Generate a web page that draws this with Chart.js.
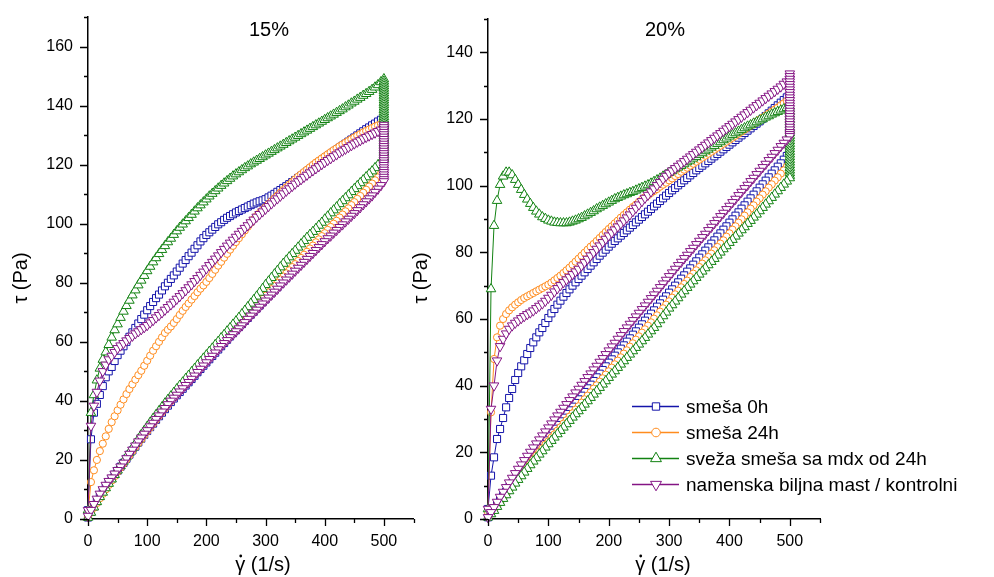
<!DOCTYPE html>
<html>
<head>
<meta charset="utf-8">
<script src="https://cdn.jsdelivr.net/npm/chart.js@4/dist/chart.umd.min.js"></script>
<style>
  body { margin: 0; background: #fff; }
  #wrap { position: relative; width: 994px; height: 577px; }
  #c15 { position: absolute; left: 0; top: 0; }
  #c20 { position: absolute; left: 400px; top: 0; }
</style>
</head>
<body>
<div id="wrap">
  <canvas id="c15" width="420" height="577"></canvas>
  <canvas id="c20" width="594" height="577"></canvas>
</div>
<script>
// shear rate grid (1/s), 0..500 every 5 -- same for the up and the down ramp
const shearRate = [
  0, 5, 10, 15, 20, 25, 30, 35, 40, 45,
  50, 55, 60, 65, 70, 75, 80, 85, 90, 95,
  100, 105, 110, 115, 120, 125, 130, 135, 140, 145,
  150, 155, 160, 165, 170, 175, 180, 185, 190, 195,
  200, 205, 210, 215, 220, 225, 230, 235, 240, 245,
  250, 255, 260, 265, 270, 275, 280, 285, 290, 295,
  300, 305, 310, 315, 320, 325, 330, 335, 340, 345,
  350, 355, 360, 365, 370, 375, 380, 385, 390, 395,
  400, 405, 410, 415, 420, 425, 430, 435, 440, 445,
  450, 455, 460, 465, 470, 475, 480, 485, 490, 495,
  500];
const holdRate = 500;

const labels = ["smeša 0h", "smeša 24h", "sveža smeša sa mdx od 24h", "namenska biljna mast / kontrolni"];

// ================= 15% =================
const blue15Up = [
  3, 27, 36, 39, 42, 45, 48, 50, 51.5, 53.5,
  55.5, 57, 58.5, 60, 61.7, 63.2, 64.7, 66.2, 67.7, 69.2,
  70.7, 72.1, 73.5, 74.8, 76, 77.4, 78.8, 80, 81.3, 82.5,
  83.8, 85.1, 86.5, 87.7, 89, 90.2, 91.5, 92.7, 94, 95.1,
  96.2, 97.1, 98, 98.9, 99.8, 100.5, 101.3, 102, 102.6, 103.2,
  103.8, 104.3, 104.8, 105.3, 105.8, 106.3, 106.8, 107.2, 107.6, 107.9,
  108.3, 108.9, 109.5, 110.1, 110.8, 111.4, 112.1, 112.7, 113.4, 114.1,
  114.8, 115.5, 116.2, 116.9, 117.7, 118.4, 119.2, 119.9, 120.7, 121.4,
  122.2, 122.9, 123.6, 124.3, 125, 125.7, 126.4, 127.1, 127.8, 128.5,
  129.2, 129.9, 130.6, 131.3, 132, 132.6, 133.3, 133.9, 134.6, 135.2,
  135.8];
const orange15Up = [
  2, 12.5, 16.5, 20, 23, 25.5, 28, 30.5, 32.8, 34.8,
  36.8, 38.7, 40.5, 42.3, 44, 45.6, 47.2, 48.7, 50.2, 51.9,
  53.6, 55.3, 57, 58.5, 60, 61.5, 63, 64.1, 65.2, 66.4,
  67.7, 69.1, 70.5, 71.8, 73, 74.3, 75.5, 76.8, 78, 79.1,
  80.3, 81.6, 83, 84.4, 85.8, 87.1, 88.5, 89.8, 91.2, 92.5,
  93.8, 95.1, 96.4, 97.7, 99, 100.3, 101.5, 102.6, 103.6, 104.6,
  105.6, 106.6, 107.6, 108.6, 109.5, 110.5, 111.4, 112.3, 113.2, 114.1,
  115, 115.9, 116.7, 117.5, 118.3, 119.1, 119.9, 120.7, 121.4, 122.1,
  122.8, 123.5, 124.2, 124.9, 125.5, 126.2, 126.8, 127.4, 128, 128.6,
  129.2, 129.8, 130.3, 130.9, 131.4, 131.9, 132.4, 132.9, 133.3, 133.8,
  134.2];
const green15Up = [
  3, 36, 42, 47, 51, 54, 56.5, 59, 61.5, 64,
  66, 68.2, 70.3, 72.2, 74, 75.8, 77.5, 79.2, 80.8, 82.4,
  84, 85.5, 87, 88.4, 89.8, 91.2, 92.5, 93.8, 95, 96.3,
  97.5, 98.7, 99.8, 100.9, 102, 103.1, 104.2, 105.3, 106.3, 107.3,
  108.3, 109.3, 110.2, 111.1, 112, 112.9, 113.7, 114.5, 115.3, 116.1,
  116.8, 117.5, 118.2, 118.9, 119.5, 120.2, 120.8, 121.4, 122, 122.6,
  123.2, 123.8, 124.4, 125, 125.6, 126.2, 126.8, 127.4, 128, 128.6,
  129.2, 129.8, 130.4, 131, 131.6, 132.2, 132.8, 133.4, 134, 134.6,
  135.2, 135.8, 136.4, 137, 137.6, 138.2, 138.8, 139.5, 140.1, 140.8,
  141.4, 142.1, 142.7, 143.4, 144, 144.7, 145.4, 146.2, 147, 148,
  149];
const purple15Up = [
  3, 31.5, 38.3, 43, 46.8, 50, 52.2, 54, 55.2, 56.5,
  57.8, 58.7, 59.5, 60.4, 61.2, 62, 62.8, 63.5, 64.2, 64.9,
  65.6, 66.5, 67.3, 68.2, 69, 69.9, 70.8, 71.7, 72.6, 73.5,
  74.5, 75.4, 76.4, 77.4, 78.4, 79.4, 80.5, 81.5, 82.6, 83.7,
  84.8, 85.9, 87, 88.1, 89.2, 90.3, 91.4, 92.5, 93.5, 94.5,
  95.5, 96.5, 97.5, 98.5, 99.4, 100.4, 101.3, 102.3, 103.2, 104.1,
  105, 105.9, 106.8, 107.7, 108.5, 109.4, 110.2, 111.1, 111.9, 112.7,
  113.5, 114.3, 115, 115.8, 116.5, 117.3, 118, 118.7, 119.4, 120.1,
  120.8, 121.5, 122.1, 122.8, 123.4, 124.1, 124.7, 125.3, 125.9, 126.5,
  127.1, 127.7, 128.2, 128.8, 129.3, 129.8, 130.3, 130.8, 131.3, 131.8,
  132.2];

// stress while held at 500 1/s
const blue15Hold = [135, 134.2, 133.4, 132.6, 131.8, 131, 130.2, 129.4, 128.6, 127.8, 127, 126.2, 125.4, 124.6,
  123.8, 123, 122.2, 121.4, 120.6, 119.8, 119, 118.2, 117.4, 116.6];
const orange15Hold = [133.4, 132.6, 131.8, 131, 130.2, 129.4, 128.6, 127.8, 127, 126.2, 125.4, 124.6, 123.8, 123,
  122.2, 121.4, 120.6, 119.8, 119, 118.5];
const green15Hold = [148.2, 147.4, 146.6, 145.8, 145, 144.2, 143.4, 142.6, 141.8, 141, 140.2, 139.4, 138.6, 137.8,
  137, 136.2, 135.4, 134.6, 133.8, 133, 132.2, 131.4, 130.6, 129.8, 129, 128.2, 127.4, 126.6, 125.8, 125, 124.2,
  123.4, 122.6];
const purple15Hold = [133.4, 132.6, 131.8, 131, 130.2, 129.4, 128.6, 127.8, 127, 126.2, 125.4, 124.6, 123.8, 123,
  122.2, 121.4, 120.6, 119.8, 119, 118.2, 117.4, 116.6, 115.8, 115];

// down ramp, listed from 0 to 500 1/s
const blue15Down = [
  0.5, 2.4, 4.2, 6, 7.7, 9.3, 10.8, 12.2, 13.6, 15,
  16.3, 17.7, 19, 20.4, 21.8, 23.2, 24.5, 25.9, 27.2, 28.5,
  29.8, 31.1, 32.3, 33.6, 34.8, 36, 37.2, 38.4, 39.6, 40.8,
  41.9, 43, 44.1, 45.2, 46.3, 47.4, 48.5, 49.7, 50.8, 51.9,
  53, 54.1, 55.2, 56.3, 57.4, 58.5, 59.6, 60.7, 61.8, 62.9,
  63.9, 65, 66, 67.1, 68.1, 69.2, 70.2, 71.3, 72.3, 73.4,
  74.4, 75.5, 76.5, 77.5, 78.5, 79.6, 80.6, 81.6, 82.6, 83.7,
  84.7, 85.7, 86.7, 87.8, 88.8, 89.8, 90.8, 91.9, 92.9, 94,
  95, 96.1, 97.1, 98.2, 99.2, 100.2, 101.2, 102.3, 103.3, 104.4,
  105.4, 106.5, 107.5, 108.6, 109.6, 110.7, 111.7, 112.8, 113.8, 114.9,
  116];
const orange15Down = [
  0.5, 2.2, 3.8, 5.4, 7, 8.5, 10, 11.5, 13, 14.5,
  16, 17.4, 18.8, 20.2, 21.6, 23, 24.4, 25.7, 27, 28.4,
  29.7, 31, 32.3, 33.6, 34.9, 36.2, 37.4, 38.7, 39.9, 41.1,
  42.3, 43.5, 44.7, 45.9, 47, 48.2, 49.3, 50.5, 51.6, 52.8,
  53.9, 55, 56.1, 57.2, 58.3, 59.4, 60.5, 61.6, 62.7, 63.8,
  64.9, 66, 67, 68.1, 69.1, 70.2, 71.2, 72.3, 73.4, 74.5,
  75.6, 76.7, 77.8, 78.9, 80, 81.1, 82.1, 83.2, 84.2, 85.3,
  86.3, 87.4, 88.4, 89.5, 90.5, 91.6, 92.6, 93.7, 94.7, 95.8,
  96.8, 97.9, 98.9, 100, 101, 102.1, 103.1, 104.2, 105.2, 106.3,
  107.3, 108.4, 109.4, 110.5, 111.5, 112.6, 113.6, 114.7, 115.7, 116.9,
  118];
const green15Down = [
  0.5, 2.2, 4, 5.8, 7.5, 9, 10.5, 12, 13.5, 15,
  16.5, 18, 19.5, 21, 22.5, 24, 25.5, 27, 28.5, 29.9,
  31.3, 32.7, 34, 35.3, 36.6, 37.9, 39.2, 40.4, 41.6, 42.8,
  44, 45.2, 46.3, 47.5, 48.6, 49.8, 50.9, 52.1, 53.2, 54.4,
  55.5, 56.7, 57.8, 59, 60.1, 61.3, 62.4, 63.6, 64.7, 65.9,
  67, 68.2, 69.4, 70.6, 71.8, 73, 74.2, 75.4, 76.7, 78,
  79.3, 80.5, 81.7, 82.9, 84.1, 85.3, 86.5, 87.6, 88.7, 89.8,
  90.9, 92, 93.1, 94.2, 95.3, 96.3, 97.3, 98.3, 99.4, 100.4,
  101.5, 102.5, 103.6, 104.6, 105.6, 106.7, 107.7, 108.7, 109.7, 110.8,
  111.8, 112.8, 113.8, 114.8, 115.8, 116.8, 117.8, 118.9, 119.9, 121,
  122];
const purple15Down = [
  1, 3, 5, 6.8, 8.5, 10, 11.5, 12.8, 14, 15.3,
  16.5, 17.7, 19, 20.5, 22, 23.4, 24.8, 26.2, 27.5, 28.8,
  30, 31.3, 32.5, 33.8, 35, 36.3, 37.5, 38.8, 40, 41,
  42, 43.1, 44.2, 45.3, 46.3, 47.4, 48.5, 49.7, 50.8, 51.9,
  53, 54.1, 55.2, 56.3, 57.4, 58.5, 59.5, 60.5, 61.5, 62.5,
  63.5, 64.5, 65.5, 66.6, 67.7, 68.8, 69.8, 70.8, 71.8, 72.9,
  73.9, 74.9, 75.9, 76.9, 77.9, 79, 80, 81, 82, 83,
  84, 85, 86, 87, 88, 89, 90, 91, 92, 93,
  94, 95, 95.9, 96.9, 97.8, 98.8, 99.7, 100.7, 101.6, 102.6,
  103.5, 104.5, 105.5, 106.5, 107.5, 108.5, 109.5, 110.7, 111.8, 113,
  114.3];

// ================= 20% =================
const blue20Up = [
  3, 13, 18.5, 24, 27, 30.3, 33.5, 36.3, 39, 41.7,
  43.8, 45.8, 47.6, 49.5, 51.3, 53, 54.5, 56, 57.3, 58.8,
  60.3, 61.7, 63, 64.3, 65.5, 66.7, 67.8, 68.9, 70, 71,
  72, 73, 74, 75, 76, 77, 78, 79, 79.9, 80.8,
  81.7, 82.6, 83.4, 84.2, 85, 85.8, 86.6, 87.4, 88.2, 89,
  89.8, 90.6, 91.4, 92.2, 93, 93.8, 94.6, 95.4, 96.2, 97,
  97.8, 98.6, 99.3, 100.1, 100.8, 101.6, 102.3, 103.1, 103.8, 104.6,
  105.3, 106, 106.7, 107.4, 108.1, 108.8, 109.5, 110.2, 110.9, 111.6,
  112.3, 113, 113.7, 114.4, 115.1, 115.8, 116.5, 117.2, 117.9, 118.6,
  119.3, 120.1, 120.9, 121.7, 122.5, 123.3, 124.1, 124.9, 125.7, 126.5,
  127.3];
const orange20Up = [
  2, 32, 48, 54.5, 58, 60, 61.5, 62.6, 63.5, 64.3,
  65, 65.7, 66.3, 66.8, 67.3, 67.8, 68.3, 68.8, 69.3, 69.8,
  70.3, 70.9, 71.6, 72.3, 73, 73.8, 74.6, 75.4, 76.3, 77.2,
  78.1, 79, 79.9, 80.8, 81.7, 82.5, 83.4, 84.3, 85.2, 86.1,
  87, 87.8, 88.7, 89.5, 90.4, 91.2, 92, 92.8, 93.6, 94.3,
  95.1, 95.8, 96.5, 97.1, 97.8, 98.4, 99, 99.7, 100.3, 100.9,
  101.6, 102.2, 102.9, 103.5, 104.2, 104.8, 105.4, 106, 106.6, 107.2,
  107.8, 108.4, 109, 109.6, 110.2, 110.8, 111.4, 112, 112.6, 113.2,
  113.8, 114.4, 115, 115.6, 116.2, 116.8, 117.4, 118, 118.6, 119.2,
  119.8, 120.4, 121, 121.6, 122.2, 122.8, 123.4, 124.1, 124.7, 125.4,
  126];
const green20Up = [
  3, 69, 88, 95.5, 100.3, 102.8, 104, 104, 103.2, 101.8,
  100.3, 98.8, 97.3, 95.9, 94.6, 93.4, 92.3, 91.4, 90.6, 90.1,
  89.6, 89.3, 89, 88.9, 88.8, 88.8, 88.8, 89, 89.3, 89.6,
  90, 90.4, 90.9, 91.4, 91.9, 92.4, 93, 93.5, 94, 94.5,
  95, 95.5, 96, 96.4, 96.8, 97.2, 97.5, 97.9, 98.2, 98.6,
  99, 99.4, 99.8, 100.2, 100.7, 101.2, 101.7, 102.2, 102.8, 103.3,
  103.9, 104.4, 105, 105.5, 106, 106.5, 107.1, 107.6, 108.2, 108.7,
  109.3, 109.8, 110.4, 110.9, 111.5, 112, 112.6, 113.1, 113.7, 114.2,
  114.8, 115.3, 115.8, 116.3, 116.8, 117.3, 117.8, 118.2, 118.7, 119.1,
  119.6, 120, 120.5, 120.9, 121.4, 121.8, 122.2, 122.6, 123, 123.4,
  123.8];
const purple20Up = [
  3, 33, 40, 47.5, 51.8, 54, 55.6, 57, 58, 58.8,
  59.5, 60.2, 60.8, 61.4, 61.9, 62.5, 63.2, 63.9, 64.6, 65.4,
  66.3, 67.2, 68.2, 69.2, 70.1, 71, 71.8, 72.6, 73.4, 74.2,
  75, 76, 77, 78, 79, 80, 81, 82, 83, 84,
  85, 85.9, 86.8, 87.7, 88.6, 89.5, 90.4, 91.3, 92.3, 93.3,
  94.3, 95.3, 96.3, 97.2, 98.2, 99.1, 100.1, 101, 102, 102.9,
  103.8, 104.5, 105.2, 105.9, 106.6, 107.3, 108, 108.7, 109.4, 110.1,
  110.8, 111.5, 112.2, 112.9, 113.6, 114.3, 115, 115.7, 116.4, 117.1,
  117.8, 118.5, 119.2, 119.9, 120.6, 121.3, 122, 122.7, 123.4, 124.1,
  124.8, 125.5, 126.2, 126.9, 127.6, 128.3, 129, 129.7, 130.5, 131.2,
  132];

const blue20Hold = [126.5, 125.7, 124.9, 124.1, 123.3, 122.5, 121.7, 120.9, 120.1, 119.3, 118.5, 117.7, 116.9,
  116.1, 115.3, 114.5, 113.7, 112.9, 112.1, 111.3, 110.6];
const orange20Hold = [125.2, 124.4, 123.6, 122.8, 122, 121.2, 120.4, 119.6, 118.8, 118, 117.2, 116.4, 115.6,
  114.8, 114, 113.2, 112.4, 111.6, 110.8, 110, 109.2, 108.4, 107.6];
const green20Hold = [123, 122.2, 121.4, 120.6, 119.8, 119, 118.2, 117.4, 116.6, 115.8, 115, 114.2, 113.4, 112.6,
  111.8, 111, 110.2, 109.4, 108.6, 107.8, 107, 106.2, 105.4, 104.6, 103.8, 103];
const purple20Hold = [133.6, 132.8, 132, 131.2, 130.4, 129.6, 128.8, 128, 127.2, 126.4, 125.6, 124.8, 124, 123.2,
  122.4, 121.6, 120.8, 120, 119.2, 118.4, 117.6, 116.8, 116, 115.4];

const blue20Down = [
  0.5, 1.8, 3, 4.3, 5.6, 6.9, 8.2, 9.5, 10.7, 11.9,
  13.1, 14.3, 15.5, 16.7, 17.9, 19, 20.2, 21.3, 22.5, 23.6,
  24.8, 25.9, 27.1, 28.2, 29.3, 30.4, 31.5, 32.6, 33.7, 34.8,
  35.9, 37, 38.1, 39.2, 40.3, 41.4, 42.5, 43.6, 44.7, 45.8,
  46.9, 47.9, 49, 50, 51.1, 52.1, 53.2, 54.2, 55.3, 56.3,
  57.4, 58.4, 59.5, 60.5, 61.6, 62.6, 63.7, 64.7, 65.8, 66.8,
  67.9, 68.9, 70, 71, 72.1, 73.1, 74.2, 75.2, 76.3, 77.3,
  78.4, 79.4, 80.5, 81.5, 82.6, 83.6, 84.7, 85.7, 86.8, 87.8,
  88.9, 89.9, 91, 92, 93.1, 94.1, 95.2, 96.2, 97.3, 98.3,
  99.4, 100.4, 101.5, 102.5, 103.6, 104.6, 105.7, 106.7, 107.8, 108.9,
  110];
const orange20Down = [
  0.5, 1.6, 2.8, 4, 5.2, 6.4, 7.6, 8.8, 10, 11.2,
  12.3, 13.5, 14.6, 15.7, 16.8, 17.9, 19, 20.1, 21.2, 22.3,
  23.3, 24.4, 25.4, 26.5, 27.5, 28.6, 29.6, 30.7, 31.7, 32.8,
  33.8, 34.9, 35.9, 37, 38, 39.1, 40.1, 41.2, 42.2, 43.3,
  44.3, 45.4, 46.4, 47.5, 48.5, 49.6, 50.6, 51.7, 52.7, 53.8,
  54.8, 55.9, 56.9, 58, 59, 60.1, 61.1, 62.2, 63.2, 64.3,
  65.3, 66.4, 67.4, 68.5, 69.5, 70.5, 71.5, 72.6, 73.6, 74.6,
  75.6, 76.6, 77.6, 78.6, 79.6, 80.6, 81.6, 82.6, 83.6, 84.7,
  85.7, 86.8, 87.8, 88.9, 89.9, 91, 92, 93.1, 94.1, 95.2,
  96.2, 97.3, 98.3, 99.4, 100.4, 101.5, 102.5, 103.6, 104.6, 105.7,
  106.8];
const green20Down = [
  0.5, 1.5, 2.5, 3.7, 4.9, 6.1, 7.2, 8.4, 9.5, 10.7,
  11.8, 12.9, 14, 15.1, 16.2, 17.3, 18.3, 19.4, 20.4, 21.5,
  22.5, 23.5, 24.5, 25.5, 26.5, 27.5, 28.5, 29.5, 30.5, 31.5,
  32.4, 33.4, 34.4, 35.4, 36.4, 37.4, 38.4, 39.4, 40.4, 41.4,
  42.4, 43.4, 44.4, 45.4, 46.4, 47.4, 48.4, 49.4, 50.4, 51.4,
  52.4, 53.4, 54.4, 55.4, 56.4, 57.4, 58.5, 59.7, 60.9, 62,
  63.2, 64.2, 65.3, 66.3, 67.4, 68.4, 69.4, 70.4, 71.4, 72.4,
  73.4, 74.3, 75.3, 76.2, 77.2, 78.1, 79.1, 80, 81, 81.9,
  82.9, 83.8, 84.8, 85.7, 86.7, 87.6, 88.6, 89.5, 90.5, 91.4,
  92.4, 93.4, 94.4, 95.4, 96.4, 97.4, 98.4, 99.4, 100.4, 101.3,
  102.3];
const purple20Down = [
  0.5, 2, 3.5, 5.1, 6.6, 8.1, 9.5, 10.9, 12.3, 13.7,
  15, 16.3, 17.6, 18.9, 20.1, 21.4, 22.6, 23.8, 25, 26.2,
  27.4, 28.6, 29.8, 31, 32.1, 33.3, 34.4, 35.6, 36.7, 37.9,
  39, 40.2, 41.3, 42.5, 43.6, 44.8, 45.9, 47.1, 48.2, 49.4,
  50.5, 51.7, 52.8, 54, 55.1, 56.3, 57.4, 58.5, 59.6, 60.7,
  61.8, 62.9, 64, 65.1, 66.2, 67.3, 68.4, 69.5, 70.6, 71.7,
  72.8, 73.9, 75, 76.1, 77.1, 78.2, 79.2, 80.3, 81.3, 82.4,
  83.4, 84.5, 85.5, 86.6, 87.6, 88.7, 89.7, 90.8, 91.8, 92.9,
  93.9, 95, 96, 97.1, 98.1, 99.2, 100.2, 101.3, 102.3, 103.4,
  104.4, 105.5, 106.5, 107.6, 108.6, 109.7, 110.7, 111.8, 112.8, 113.8,
  114.8];

const FONT = '"Liberation Sans", Arial, "DejaVu Sans", sans-serif';
const colors = ["#1414aa", "#ff8c1e", "#128212", "#841484"];
const styles = [
  { pointStyle: "rect", rotation: 0, radius: 5 },
  { pointStyle: "circle", rotation: 0, radius: 3.6 },
  { pointStyle: "triangle", rotation: 0, radius: 5.5 },
  { pointStyle: "triangle", rotation: 180, radius: 5.5 },
];

// up ramp -> hold at 500 1/s -> down ramp
function loop(up, hold, down) {
  const pts = shearRate.map((x, i) => ({ x, y: up[i] }));
  hold.forEach((y) => pts.push({ x: holdRate, y }));
  for (let i = shearRate.length - 1; i >= 0; i--) pts.push({ x: shearRate[i], y: down[i] });
  return pts;
}

function makeDataset(i, pts) {
  const s = styles[i];
  return {
    label: labels[i],
    data: pts,
    order: 3 - i, // last series ends up on top
    showLine: true,
    tension: 0,
    clip: false,
    borderColor: colors[i],
    borderWidth: 1,
    pointStyle: s.pointStyle,
    pointRotation: s.rotation,
    pointRadius: s.radius,
    pointHoverRadius: s.radius,
    pointBorderColor: colors[i],
    pointBackgroundColor: "#fff",
    pointBorderWidth: 1,
  };
}

function marker(ctx, s, x, y, r) {
  ctx.beginPath();
  if (s.pointStyle === "rect") {
    const h = r * Math.SQRT1_2;
    ctx.rect(x - h, y - h, 2 * h, 2 * h);
  } else if (s.pointStyle === "circle") {
    ctx.arc(x, y, r, 0, Math.PI * 2);
  } else {
    let a = (s.rotation * Math.PI) / 180;
    ctx.moveTo(x + Math.sin(a) * r, y - Math.cos(a) * r);
    a += (2 * Math.PI) / 3;
    ctx.lineTo(x + Math.sin(a) * r, y - Math.cos(a) * r);
    a += (2 * Math.PI) / 3;
    ctx.lineTo(x + Math.sin(a) * r, y - Math.cos(a) * r);
    ctx.closePath();
  }
  ctx.fill();
  ctx.stroke();
}

// ticks drawn by hand: long major, short minor
const axisTicks = {
  id: "axisTicks",
  afterDraw(chart) {
    const ctx = chart.ctx;
    const xs = chart.scales.x;
    const ys = chart.scales.y;
    ctx.save();
    ctx.strokeStyle = "#000";
    ctx.lineWidth = 1.3;
    ctx.beginPath();
    ys.ticks.forEach((t) => {
      const py = Math.round(ys.getPixelForValue(t.value)) + 0.5;
      const len = t.value % 20 === 0 ? 8 : 4;
      ctx.moveTo(ys.right - len, py);
      ctx.lineTo(ys.right, py);
    });
    xs.ticks.forEach((t) => {
      const px = Math.round(xs.getPixelForValue(t.value)) + 0.5;
      const len = t.value % 100 === 0 ? 7 : 4;
      ctx.moveTo(px, xs.top);
      ctx.lineTo(px, xs.top + len);
    });
    ctx.stroke();
    ctx.restore();
  },
};

function panelText(cfg) {
  return {
    id: "panelText",
    afterDraw(chart) {
      const ctx = chart.ctx;
      ctx.save();
      ctx.fillStyle = "#000";
      ctx.textBaseline = "alphabetic";
      ctx.font = "20px " + FONT;
      ctx.textAlign = "center";
      ctx.fillText(cfg.title, cfg.titleX, 36);

      // gamma-dot (1/s)
      const xt = "γ (1/s)";
      const left = cfg.xTitleX - ctx.measureText(xt).width / 2;
      const gw = ctx.measureText("γ").width;
      ctx.textAlign = "left";
      ctx.fillText(xt, left, 571);
      ctx.beginPath();
      ctx.arc(left + gw / 2 + 0.5, 556, 1.4, 0, Math.PI * 2);
      ctx.fill();

      ctx.save();
      ctx.translate(cfg.yTitleX, 278);
      ctx.rotate(-Math.PI / 2);
      ctx.textAlign = "center";
      ctx.textBaseline = "middle";
      ctx.fillText("τ (Pa)", 0, 0);
      ctx.restore();

      if (cfg.legend) {
        const rows = [406, 432, 458, 484];
        ctx.font = "19px " + FONT;
        ctx.textAlign = "left";
        ctx.textBaseline = "alphabetic";
        rows.forEach((ry, i) => {
          ctx.strokeStyle = colors[i];
          ctx.lineWidth = 1.5;
          ctx.beginPath();
          ctx.moveTo(232, ry + 0.5);
          ctx.lineTo(279, ry + 0.5);
          ctx.stroke();
          ctx.fillStyle = "#fff";
          ctx.lineWidth = 1;
          const r = styles[i].pointStyle === "triangle" ? 6.3 : styles[i].pointStyle === "circle" ? 4.3 : 5.2;
          marker(ctx, styles[i], 256, ry + 0.5, r);
          ctx.fillStyle = "#000";
          ctx.fillText(labels[i], 286, ry + 7);
        });
      }
      ctx.restore();
    },
  };
}

function makeChart(id, yMax, topPad, rightPad, series, text) {
  return new Chart(document.getElementById(id), {
    type: "scatter",
    data: { datasets: series.map((pts, i) => makeDataset(i, pts)) },
    options: {
      responsive: false,
      animation: false,
      events: [],
      layout: { padding: { left: 0, top: topPad, right: rightPad, bottom: 0 } },
      plugins: { legend: { display: false }, tooltip: { enabled: false } },
      scales: {
        x: {
          type: "linear",
          min: 0,
          max: 550,
          grid: { display: false, drawTicks: true, tickLength: 7 },
          border: { display: true, color: "#000", width: 1.5 },
          ticks: {
            stepSize: 50,
            autoSkip: false,
            maxRotation: 0,
            padding: 6,
            color: "#000",
            font: { family: FONT, size: 16 },
            callback: (v) => (v % 100 === 0 && v <= 500 ? v : ""),
          },
          afterFit: (s) => { s.height = 58; },
        },
        y: {
          type: "linear",
          min: 0,
          max: yMax,
          grid: { display: false, drawTicks: true, tickLength: 8 },
          border: { display: true, color: "#000", width: 1.5 },
          ticks: {
            stepSize: 10,
            autoSkip: false,
            padding: 7,
            color: "#000",
            font: { family: FONT, size: 16 },
            callback: (v) => (v % 20 === 0 ? v : ""),
          },
          afterFit: (s) => { s.width = 88; },
        },
      },
    },
    plugins: [axisTicks, panelText(text)],
  });
}

makeChart("c15", 170, 17, 2, [
  loop(blue15Up, blue15Hold, blue15Down),
  loop(orange15Up, orange15Hold, orange15Down),
  loop(green15Up, green15Hold, green15Down),
  loop(purple15Up, purple15Hold, purple15Down),
], { title: "15%", titleX: 269, xTitleX: 263, yTitleX: 21, legend: false });

makeChart("c20", 150, 19, 174, [
  loop(blue20Up, blue20Hold, blue20Down),
  loop(orange20Up, orange20Hold, orange20Down),
  loop(green20Up, green20Hold, green20Down),
  loop(purple20Up, purple20Hold, purple20Down),
], { title: "20%", titleX: 265, xTitleX: 263, yTitleX: 21, legend: true });
</script>
</body>
</html>
